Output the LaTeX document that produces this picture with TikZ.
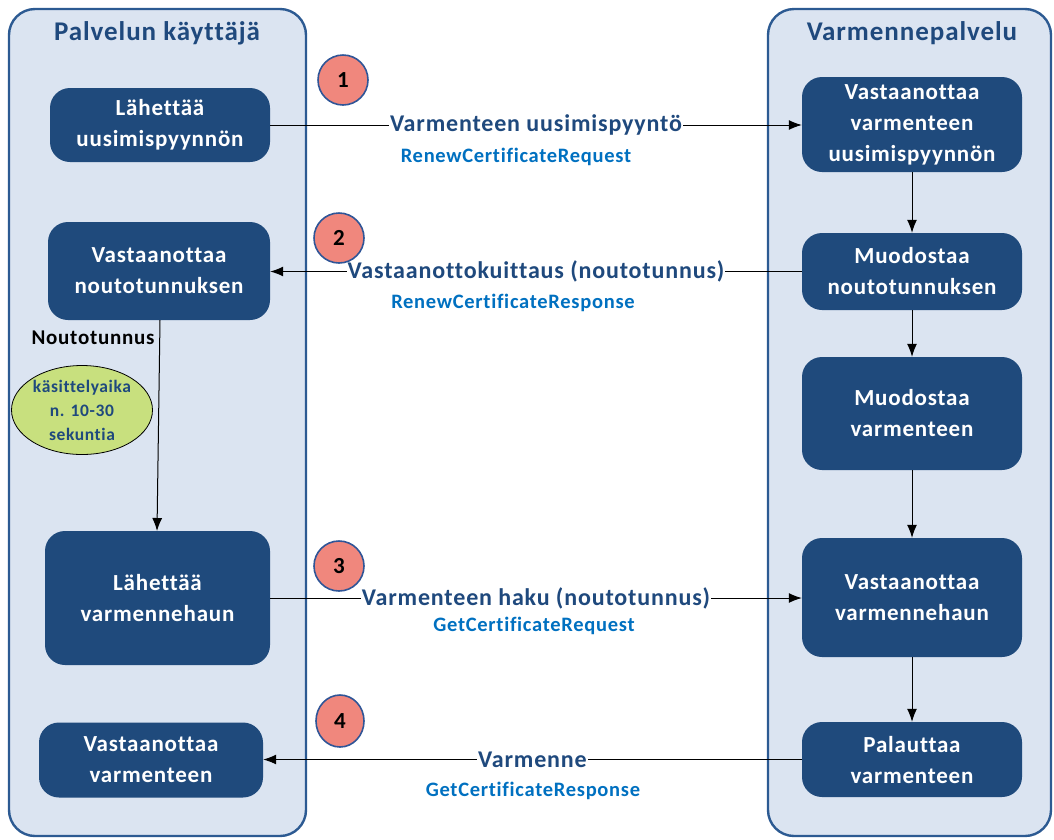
\documentclass[tikz,border=0pt]{standalone}
\usepackage{fontspec}
\setmainfont{Carlito}[LetterSpace=3.5,Ligatures=NoCommon]
\usetikzlibrary{arrows.meta,shapes.geometric}
\definecolor{navy}{HTML}{1F4A7C}
\definecolor{lanefill}{HTML}{DBE4F1}
\definecolor{laneborder}{HTML}{2C5A92}
\definecolor{msgtext}{HTML}{1F497D}
\definecolor{apiblue}{HTML}{0070C0}
\definecolor{badge}{HTML}{F0877D}
\definecolor{badgeborder}{HTML}{2F5597}
\definecolor{note}{HTML}{C8E07E}
\tikzset{
  lane/.style={draw=laneborder, line width=2.4pt, fill=lanefill, rounded corners=26pt},
  lanetitle/.style={font=\bfseries\fontsize{27}{30}\selectfont, text=msgtext},
  stepbox/.style={fill=navy, rounded corners=20pt, text=white, align=center, inner sep=0pt,
     font=\bfseries\fontsize{23}{31}\selectfont},
  msg/.style={fill=white, inner sep=1pt, text=msgtext, font=\bfseries\fontsize{24}{26}\selectfont},
  api/.style={text=apiblue, font=\bfseries\fontsize{20.5}{22}\selectfont},
  num/.style={circle, fill=badge, draw=badgeborder, line width=1.6pt, minimum size=50pt, inner sep=0pt,
     font=\bfseries\fontsize{23}{26}\selectfont},
  flow/.style={draw=black, line width=1pt, -{Latex[length=13pt,width=10pt]}},
}
\begin{document}
\begin{tikzpicture}[x=1pt,y=-1pt]
\useasboundingbox (0,0) rectangle (1054,839);
% lanes
\draw[lane] (9,9) rectangle (306,836);
\draw[lane] (768,9) rectangle (1051,836);
\node[lanetitle] (t1) at (157,33) {Palvelun käyttäjä};
\node[lanetitle] (t2) at (912,33) {Varmennepalvelu};
% left boxes
\node[stepbox, minimum width=220pt, minimum height=74pt] (l1) at (160,125) {Lähettää\\uusimispyynnön};
\node[stepbox, minimum width=222pt, minimum height=98pt] (l2) at (159,271) {Vastaanottaa\\noutotunnuksen};
\node[stepbox, minimum width=225pt, minimum height=134pt] (l3) at (157.5,598) {Lähettää\\varmennehaun};
\node[stepbox, minimum width=224pt, minimum height=75pt] (l4) at (151,760) {Vastaanottaa\\varmenteen};
% right boxes
\node[stepbox, minimum width=220pt, minimum height=95pt] (r1) at (912,124.5) {Vastaanottaa\\varmenteen\\uusimispyynnön};
\node[stepbox, minimum width=220pt, minimum height=77pt] (r2) at (912,271.5) {Muodostaa\\noutotunnuksen};
\node[stepbox, minimum width=220pt, minimum height=113pt] (r3) at (912,413.5) {Muodostaa\\varmenteen};
\node[stepbox, minimum width=220pt, minimum height=119pt] (r4) at (912,597.5) {Vastaanottaa\\varmennehaun};
\node[stepbox, minimum width=220pt, minimum height=75pt] (r5) at (912,759.5) {Palauttaa\\varmenteen};
% vertical flows
\draw[flow] (r1) -- (r2);
\draw[flow] (r2) -- (r3);
\draw[flow] (r3) -- (r4);
\draw[flow] (r4) -- (r5);
\coordinate (l2b) at (160,320);
\coordinate (l3t) at (157,531);
\draw[flow] (l2b) -- (l3t);
% messages
\draw[flow] (l1.east) -- node[msg] (m1) {Varmenteen uusimispyyntö} (r1.west |- l1.east);
\draw[flow] (r2.west) -- node[msg] (m2) {Vastaanottokuittaus (noutotunnus)} (l2.east |- r2.west);
\draw[flow] (l3.east) -- node[msg] (m3) {Varmenteen haku (noutotunnus)} (r4.west |- l3.east);
\draw[flow] (r5.west) -- node[msg] (m4) {Varmenne} (l4.east |- r5.west);
\node[api] (a1) at (516,157) {RenewCertificateRequest};
\node[api] (a2) at (513,303) {RenewCertificateResponse};
\node[api] (a3) at (534,626) {GetCertificateRequest};
\node[api] (a4) at (533,791) {GetCertificateResponse};
% badges
\node[num] (n1) at (343,80) {1};
\node[num] (n2) at (339,238) {2};
\node[num] (n3) at (339,566) {3};
\node[num, ellipse, minimum width=48pt, minimum height=52pt] (n4) at (340,721) {4};
% note
\node[font=\bfseries\fontsize{21}{22}\selectfont] (nt) at (93,338) {Noutotunnus};
\node[ellipse, fill=note, draw=black, line width=0.8pt, minimum width=141pt, minimum height=89pt, inner sep=0pt] (el) at (82,410) {};
\node[align=center, text=msgtext, inner sep=0pt, font=\bfseries\fontsize{17.5}{24}\selectfont] (elt) at (el.center) {käsittelyaika\\n. 10-30\\sekuntia};
\end{tikzpicture}
\end{document}
